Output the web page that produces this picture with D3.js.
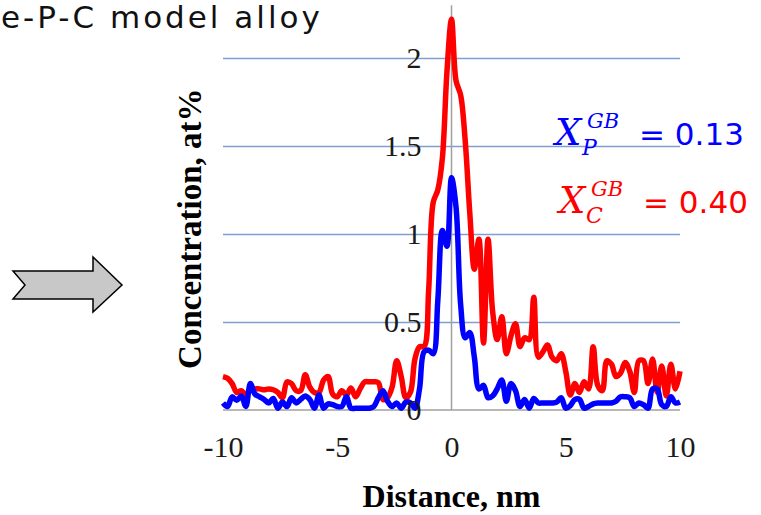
<!DOCTYPE html>
<html>
<head>
<meta charset="utf-8">
<script src="https://cdn.jsdelivr.net/npm/d3@7"></script>
<style>
  body { margin: 0; background: #fff; }
  svg { display: block; }
</style>
</head>
<body>
<div id="chart"></div>
<script>
/* Data */
let distance = [-10, -9.8, -9.6, -9.4, -9.2, -9, -8.8, -8.6, -8.4, -8.2,
  -8, -7.8, -7.6, -7.4, -7.2, -7, -6.8, -6.6, -6.4, -6.2,
  -6, -5.8, -5.6, -5.4, -5.2, -5, -4.8, -4.6, -4.4, -4.2,
  -4, -3.8, -3.6, -3.4, -3.2, -3, -2.8, -2.6, -2.4, -2.2,
  -2, -1.8, -1.6, -1.4, -1.2, -1, -0.8, -0.6, -0.4, -0.2,
  0, 0.2, 0.4, 0.6, 0.8, 1, 1.2, 1.4, 1.6, 1.8,
  2, 2.2, 2.4, 2.6, 2.8, 3, 3.2, 3.4, 3.6, 3.8,
  4, 4.2, 4.4, 4.6, 4.8, 5, 5.2, 5.4, 5.6, 5.8,
  6, 6.2, 6.4, 6.6, 6.8, 7, 7.2, 7.4, 7.6, 7.8,
  8, 8.2, 8.4, 8.6, 8.8, 9, 9.2, 9.4, 9.6, 9.8,
  10];

// C, at%
let concC = [0.19, 0.18, 0.15, 0.10, 0.11, 0.085, 0.12, 0.12, 0.12, 0.115,
  0.12, 0.115, 0.10, 0.07, 0.16, 0.15, 0.11, 0.11, 0.20, 0.13,
  0.10, 0.10, 0.17, 0.19, 0.09, 0.075, 0.11, 0.085, 0.125, 0.075,
  0.12, 0.16, 0.16, 0.16, 0.155, 0.06, 0.07, 0.13, 0.28, 0.19,
  0.07, 0.10, 0.29, 0.36, 0.36, 0.68, 1.18, 1.25, 1.43, 1.92,
  2.22, 1.87, 1.79, 1.53, 1.12, 0.80, 0.97, 0.38, 0.97, 0.56,
  0.40, 0.53, 0.32, 0.42, 0.49, 0.36, 0.41, 0.40, 0.64, 0.30,
  0.33, 0.37, 0.30, 0.28, 0.32, 0.22, 0.085, 0.15, 0.10, 0.16,
  0.12, 0.36, 0.14, 0.11, 0.28, 0.26, 0.19, 0.21, 0.27, 0.22,
  0.10, 0.28, 0.28, 0.15, 0.29, 0.10, 0.25, 0.08, 0.26, 0.12,
  0.22];

// P, at%
let concP = [0.04, 0.02, 0.075, 0.055, 0.08, 0.02, 0.15, 0.09, 0.075, 0.06,
  0.04, 0.065, 0.01, 0.045, 0.02, 0.07, 0.04, 0.06, 0.08, 0.06,
  0.01, 0.085, 0.01, 0.035, 0.03, 0.02, 0.02, 0.075, 0.01, 0.01,
  0.01, 0.01, 0.01, 0.02, 0.07, 0.11, 0.05, 0.02, 0.04, 0.01,
  0.045, 0.04, 0.01, 0.12, 0.33, 0.34, 0.32, 0.62, 1.02, 0.93,
  1.32, 1.15, 0.60, 0.41, 0.44, 0.30, 0.12, 0.14, 0.07, 0.08,
  0.12, 0.17, 0.05, 0.15, 0.11, 0.02, 0.06, 0.01, 0.065, 0.04,
  0.04, 0.04, 0.04, 0.045, 0.07, 0.01, 0.025, 0.06, 0.06, 0.01,
  0.02, 0.035, 0.04, 0.04, 0.04, 0.04, 0.05, 0.075, 0.075, 0.07,
  0.02, 0.04, 0.03, 0.01, 0.12, 0.12, 0.03, 0.02, 0.075, 0.04,
  0.045];

let xTicks = [-10, -5, 0, 5, 10];
let yTicks = [0, 0.5, 1, 1.5, 2];

let width = 761, height = 515;
let serif = "'Liberation Serif', 'DejaVu Serif', serif";

let x = d3.scaleLinear().domain([-10, 10]).range([223, 680]);
let y = d3.scaleLinear().domain([0, 2]).range([410, 58]);

let svg = d3.select("#chart")
  .append("svg")
  .attr("width", width)
  .attr("height", height);

/* Сетка */
svg.append("g")
  .attr("transform", "translate(" + x(-10) + ",0)")
  .call(d3.axisLeft(y)
    .tickValues(yTicks.filter(function(d) { return d > 0; }))
    .tickSize(-(x(10) - x(-10)))
    .tickFormat(""))
  .call(function(g) { g.select(".domain").remove(); })
  .selectAll("line")
  .attr("stroke", "#7f9fd0")
  .attr("stroke-width", 1.5);

// оси через ноль
svg.append("line")
  .attr("x1", x(-10)).attr("x2", x(10))
  .attr("y1", y(0)).attr("y2", y(0))
  .attr("stroke", "#a0a0a0").attr("stroke-width", 1.5);

svg.append("line")
  .attr("x1", x(0)).attr("x2", x(0))
  .attr("y1", y(0)).attr("y2", y(2.3))
  .attr("stroke", "#a0a0a0").attr("stroke-width", 1.5);

/* Кривые */
let line = d3.line()
  .x(function(d, i) { return x(distance[i]); })
  .y(function(d) { return y(d); })
  .curve(d3.curveCatmullRom.alpha(0.5));

svg.append("path")
  .datum(concC)
  .attr("fill", "none")
  .attr("stroke", "#ff0000")
  .attr("stroke-width", 5.5)
  .attr("stroke-linejoin", "round")
  .attr("d", line);

svg.append("path")
  .datum(concP)
  .attr("fill", "none")
  .attr("stroke", "#0000ff")
  .attr("stroke-width", 5.5)
  .attr("stroke-linejoin", "round")
  .attr("d", line);

/* Подписи осей */
let plain = function(d) { return String(d); };

let yAxis = svg.append("g")
  .attr("transform", "translate(" + x(0) + ",0)")
  .call(d3.axisLeft(y).tickValues(yTicks).tickFormat(plain).tickSize(0).tickPadding(30));
yAxis.select(".domain").remove();
yAxis.attr("font-family", serif).attr("font-size", 30);
yAxis.selectAll("text").attr("fill", "#1a1a1a");

let xAxis = svg.append("g")
  .attr("transform", "translate(0," + y(0) + ")")
  .call(d3.axisBottom(x).tickValues(xTicks).tickFormat(plain).tickSize(0).tickPadding(26));
xAxis.select(".domain").remove();
xAxis.attr("font-family", serif).attr("font-size", 30);
xAxis.selectAll("text").attr("fill", "#1a1a1a");

svg.append("text")
  .attr("x", x(0))
  .attr("y", 507)
  .attr("text-anchor", "middle")
  .attr("font-family", serif)
  .attr("font-weight", "bold")
  .attr("font-size", 32)
  .text("Distance, nm");

svg.append("text")
  .attr("transform", "translate(201," + y(1.03) + ") rotate(-90)")
  .attr("text-anchor", "middle")
  .attr("font-family", serif)
  .attr("font-weight", "bold")
  .attr("font-size", 33)
  .text("Concentration, at%");

/* Заголовок слева сверху */
svg.append("text")
  .attr("x", 1)
  .attr("y", 28)
  .attr("font-family", "'DejaVu Sans', sans-serif")
  .attr("font-size", 31)
  .attr("letter-spacing", 3)
  .attr("fill", "#111")
  .text("e-P-C model alloy");

/* Доли на границе зерна */
function gbLabel(top, sub, value, color, x0, base) {
  let g = svg.append("g").attr("fill", color);
  g.append("text")
    .attr("x", x0).attr("y", base)
    .attr("font-family", "'DejaVu Serif', serif")
    .attr("font-style", "italic")
    .attr("font-size", 37)
    .text("X");
  g.append("text")
    .attr("x", x0 + 32).attr("y", base - 17)
    .attr("font-family", "'DejaVu Serif', serif")
    .attr("font-style", "italic")
    .attr("font-size", 21)
    .text(top);
  g.append("text")
    .attr("x", x0 + 27).attr("y", base + 10)
    .attr("font-family", "'DejaVu Serif', serif")
    .attr("font-style", "italic")
    .attr("font-size", 22)
    .text(sub);
  g.append("text")
    .attr("x", x0 + 84).attr("y", base)
    .attr("font-family", "'DejaVu Sans', sans-serif")
    .attr("font-size", 31)
    .text("= " + value);
}

gbLabel("GB", "P", "0.13", "#0000ff", 555, 145);
gbLabel("GB", "C", "0.40", "#ff0000", 559, 213);

/* Стрелка */
let arrow = [[13, 271], [93, 271], [93, 257], [122, 285], [93, 312], [93, 299], [13, 299], [25, 285]];
svg.append("polygon")
  .attr("points", arrow.map(function(p) { return p.join(","); }).join(" "))
  .attr("fill", "#c8c8c8")
  .attr("stroke", "#000")
  .attr("stroke-width", 1.5)
  .attr("stroke-linejoin", "miter");
</script>
</body>
</html>
